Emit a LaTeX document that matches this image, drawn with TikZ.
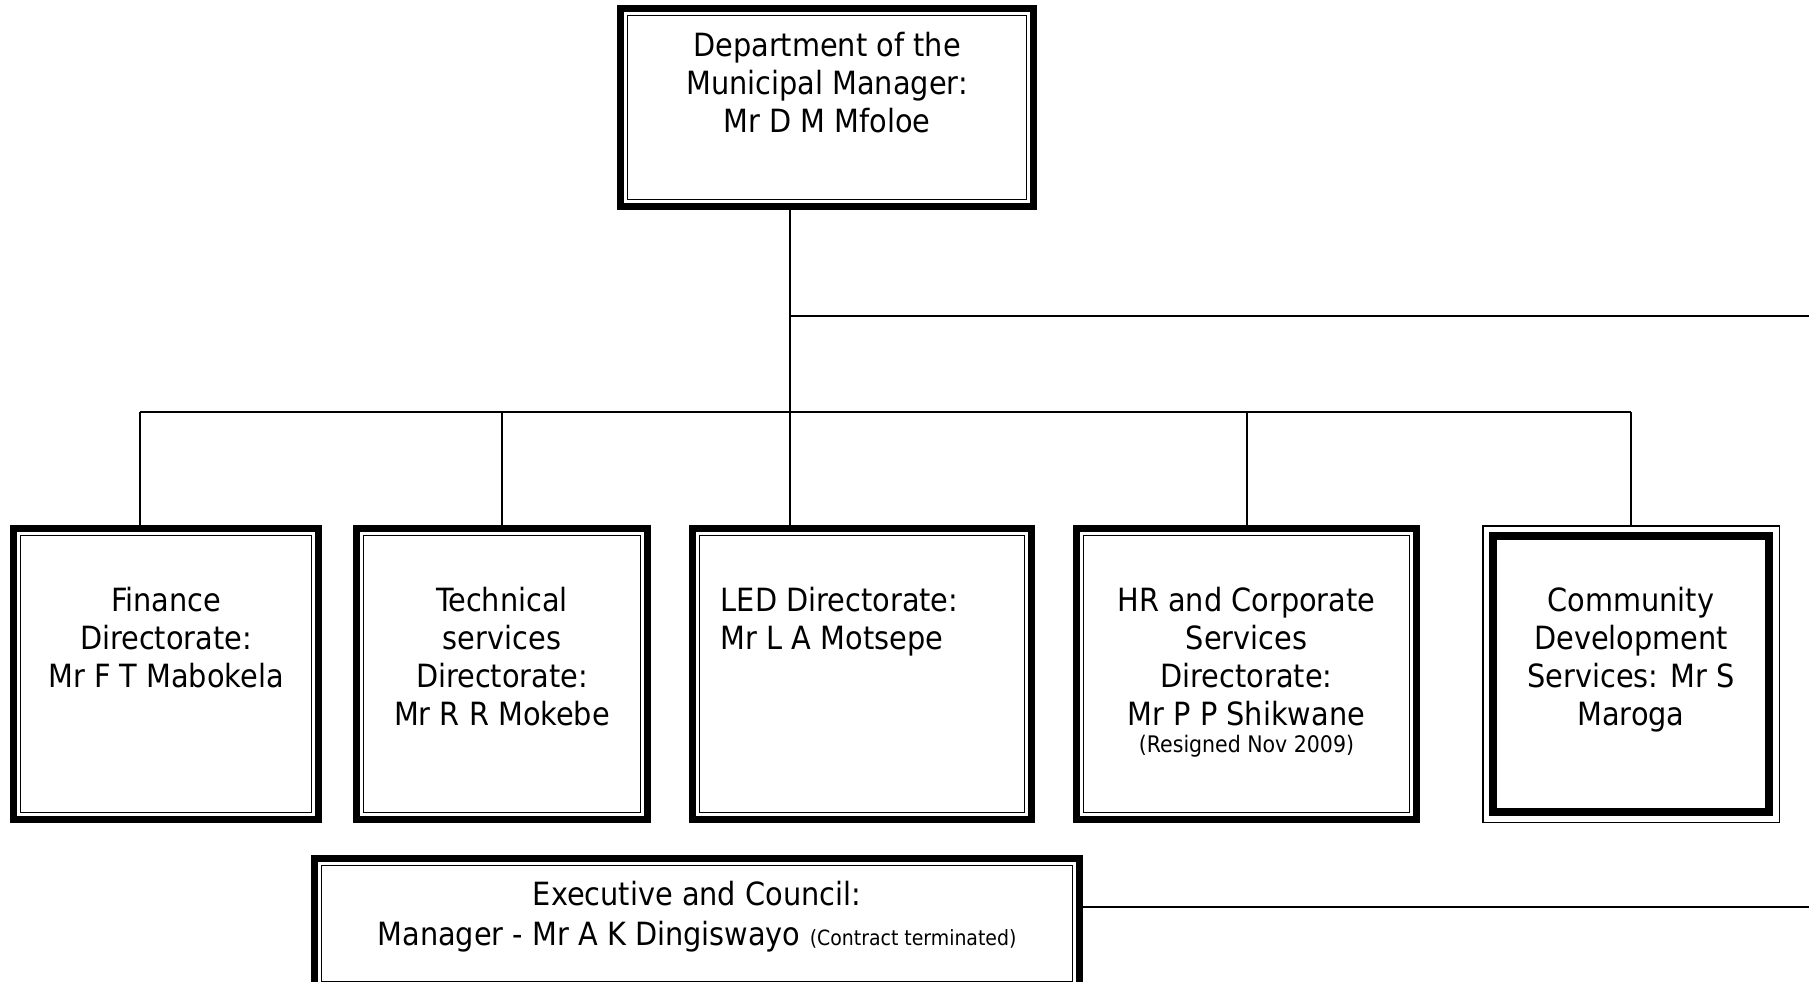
\documentclass[tikz,border=0pt]{standalone}
\usepackage{fontspec}
\setmainfont{DejaVu Sans Condensed}
\usetikzlibrary{positioning}

% inner thin frame of a double-ruled box
\newcommand{\innerrule}[1]{\draw[line width=0.75pt] ([shift={(7,7)}]#1.north west) rectangle ([shift={(-7,-7)}]#1.south east);}

\begin{document}
\begin{tikzpicture}[x=0.5pt,y=-0.5pt,
		box/.style={draw,line width=3.5pt,inner sep=0pt,outer sep=0pt},
		thinbox/.style={draw,line width=0.75pt,inner sep=0pt,outer sep=0pt},
		lbl/.style={align=center,inner sep=0pt,font=\fontsize{16pt}{19pt}\selectfont},
		link/.style={line width=1pt}]
		\useasboundingbox (0,0) rectangle (1809,981);
		\clip (0,0) rectangle (1809,981);
		% boxes
		\node[box,minimum width=206.5pt,minimum height=99pt] (mm) at (827,107.5) {};
		\node[box,minimum width=152.5pt,minimum height=145.5pt] (fin) at (166,674) {};
		\node[box,minimum width=145.5pt,minimum height=145.5pt] (tech) at (502,674) {};
		\node[box,minimum width=169.5pt,minimum height=145.5pt] (led) at (862,674) {};
		\node[box,minimum width=170pt,minimum height=145.5pt] (hr) at (1246.5,674) {};
		\node[thinbox,minimum width=148.25pt,minimum height=148.25pt] (cds) at (1631,674) {};
		\node[box,minimum width=382.5pt,minimum height=65pt] (exec) at (697,923.5) {};
		\innerrule{mm}
		\innerrule{fin}
		\innerrule{tech}
		\innerrule{led}
		\innerrule{hr}
		\innerrule{exec}
		\draw[line width=4pt] ([shift={(10,10)}]cds.north west) rectangle ([shift={(-10,-10)}]cds.south east);
		% texts
		\node[lbl,anchor=north,below=11.5pt of mm.north] (mmt) {Department of the\\ Municipal Manager:\\ Mr D M Mfoloe};
		\node[lbl,anchor=north,below=29pt of fin.north] (fint) {Finance\\ Directorate:\\ Mr F T Mabokela};
		\node[lbl,anchor=north,below=29pt of tech.north] (techt) {Technical\\ services\\ Directorate:\\ Mr R R Mokebe};
		\node[lbl,align=left,anchor=north west] (ledt) at ([xshift=14pt,yshift=-29pt]led.north west) {LED Directorate:\\ Mr L A Motsepe};
		\node[lbl,anchor=north,below=29pt of hr.north] (hrt) {HR and Corporate\\ Services\\ Directorate:\\ Mr P P Shikwane\\[-5.5pt] {\fontsize{11.4pt}{13pt}\selectfont (Resigned Nov 2009)}};
		\node[lbl,anchor=north,below=30.5pt of cds.north] (cdst) {Community\\ Development\\ Services: Mr S\\ Maroga};
		\node[lbl,anchor=north,below=11pt of exec.north,font=\fontsize{16pt}{20pt}\selectfont] (exect) {Executive and Council:\\ Manager - Mr A K Dingiswayo {\fontsize{10.5pt}{12pt}\selectfont (Contract terminated)}};
		% connectors
		\coordinate (j1) at (790,316);
		\coordinate (j2) at (790,412);
		\coordinate (fdrop) at (140,412);
		\coordinate (east) at (1809,316);
		\coordinate (eeast) at (1809,907);
		\draw[link] (mm.south -| j1) -- (led.north -| j1);
		\draw[link] (j1) -- (east);
		\draw[link] (fdrop) -- (j2 -| cds.north);
		\draw[link] (fdrop) -- (fdrop |- fin.north);
		\foreach \n in {tech,hr,cds}
			\draw[link] (j2 -| \n.north) -- (\n.north);
		\draw[link] (eeast -| exec.east) -- (eeast);
\end{tikzpicture}
\end{document}
